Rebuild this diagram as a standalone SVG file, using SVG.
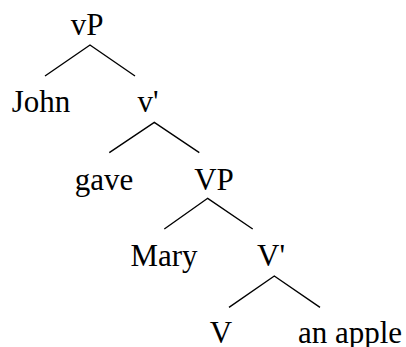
<svg xmlns="http://www.w3.org/2000/svg" width="406" height="347" viewBox="0 0 406 347">
<style>
.t{font-size:31px;fill:#000;text-anchor:middle}
.e{stroke:#000;stroke-width:1.4;fill:none}
</style>
<rect width="406" height="347" fill="#fff"/>
<g id="connectors">
<path class="e" d="M45,76 L90,45 L135,76"/>
<path class="e" d="M109.3,152.7 L154.3,122.3 L199.3,152.7"/>
<path class="e" d="M164.3,229 L207.7,198.3 L252.7,229"/>
<path class="e" d="M229,307.3 L274.3,276 L320,307.3"/>
</g>
<g class="t" font-family="Liberation Serif">
<g id="vP"><text x="87" y="35">vP</text></g>
<g id="John"><text x="41" y="112">John</text></g>
<g id="vbar"><text x="148" y="112">v'</text></g>
<g id="gave"><text x="104" y="190">gave</text></g>
<g id="VP"><text x="214" y="190">VP</text></g>
<g id="Mary"><text x="164" y="266">Mary</text></g>
<g id="Vbar"><text x="271" y="266">V'</text></g>
<g id="V"><text x="221" y="343">V</text></g>
<g id="apple"><text x="350" y="343">an apple</text></g>
</g>
</svg>
